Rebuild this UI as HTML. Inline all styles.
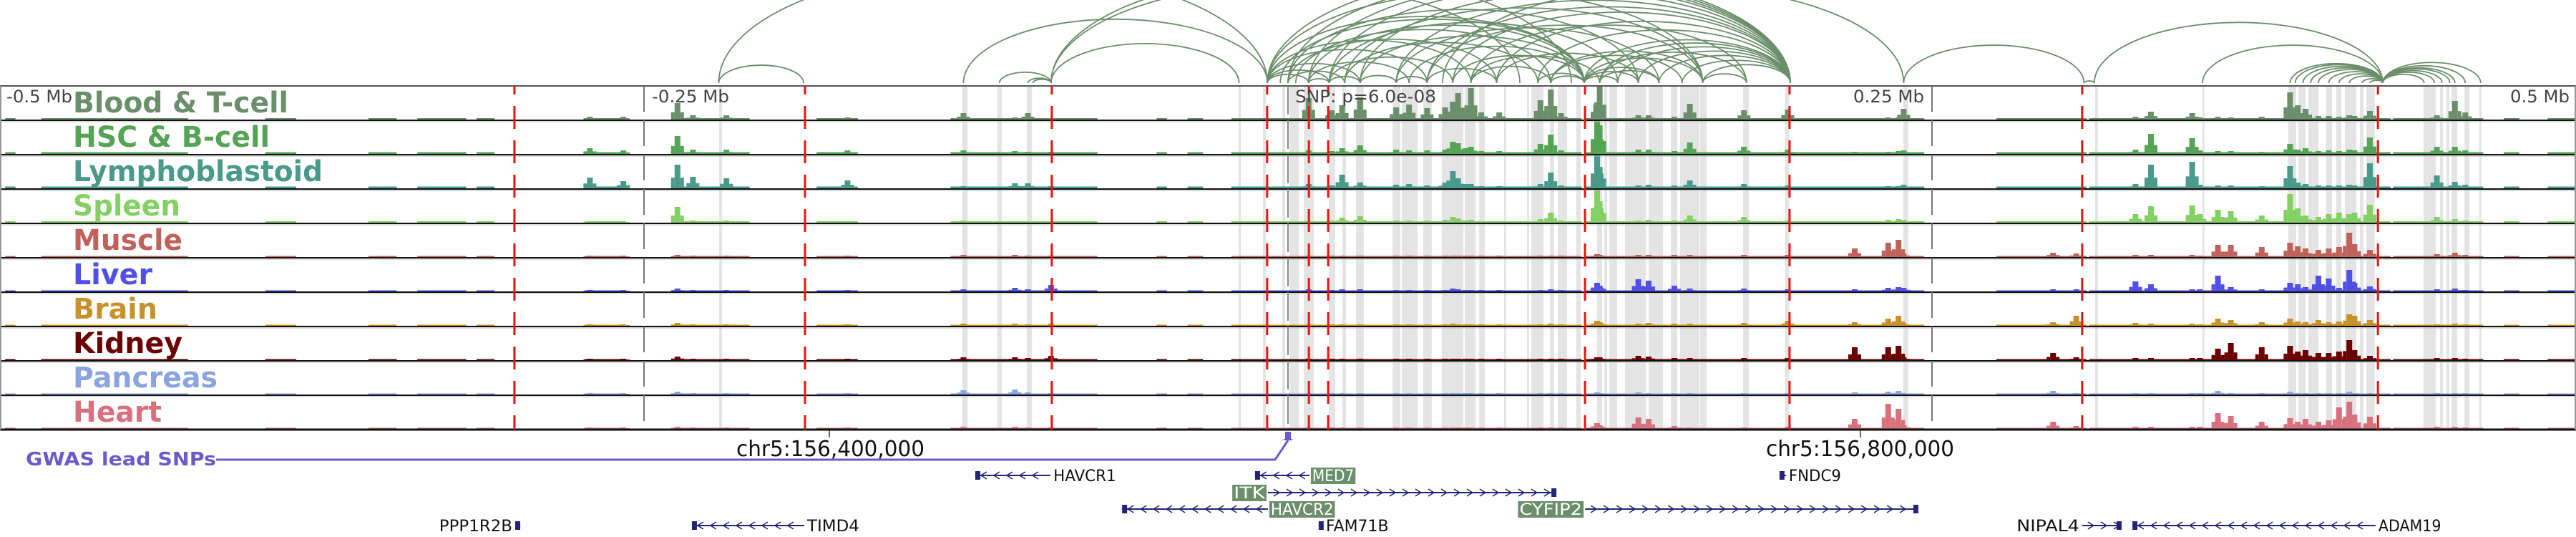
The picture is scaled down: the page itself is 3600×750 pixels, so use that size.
<!DOCTYPE html>
<html><head><meta charset="utf-8"><style>
html,body{margin:0;padding:0;background:#fff;width:3600px;height:750px;overflow:hidden}
svg{display:block;overflow:hidden}
text{font-family:"DejaVu Sans","Liberation Sans",sans-serif}
</style></head><body>
<svg id="fig" width="3600" height="750" viewBox="0 0 3600 750" xmlns="http://www.w3.org/2000/svg">
<defs><clipPath id="arcclip"><rect x="0" y="0" width="3600" height="119"/></clipPath></defs>
<rect x="0" y="0" width="3600" height="750" fill="#fff"/>
<g id="arcs" clip-path="url(#arcclip)"></g>
<g id="highlights"></g>
<g id="signals"></g>
<g id="frame"></g>
<g id="marks"></g>
<g id="labels"></g>
<g id="axis">
<text x="9" y="143" font-size="24" fill="#444" textLength="92" lengthAdjust="spacingAndGlyphs">-0.5 Mb</text>
<text x="911" y="143" font-size="24" fill="#444" textLength="108" lengthAdjust="spacingAndGlyphs">-0.25 Mb</text>
<text x="1810" y="143" font-size="24" fill="#444" textLength="197" lengthAdjust="spacingAndGlyphs">SNP: p=6.0e-08</text>
<text x="2590" y="143" font-size="24" fill="#444" textLength="99" lengthAdjust="spacingAndGlyphs">0.25 Mb</text>
<text x="3508" y="143" font-size="24" fill="#444" textLength="83" lengthAdjust="spacingAndGlyphs">0.5 Mb</text>
<line x1="1159" y1="601" x2="1159" y2="611" stroke="#333" stroke-width="1.5"/>
<line x1="2600" y1="601" x2="2600" y2="611" stroke="#333" stroke-width="1.5"/>
<text x="1029" y="637" font-size="30" fill="#111" textLength="263" lengthAdjust="spacingAndGlyphs">chr5:156,400,000</text>
<text x="2468" y="637" font-size="30" fill="#111" textLength="263" lengthAdjust="spacingAndGlyphs">chr5:156,800,000</text>
</g>
<g id="gwas">
<text x="36" y="650" font-size="26" font-weight="bold" fill="#6a5acd" textLength="266" lengthAdjust="spacingAndGlyphs">GWAS lead SNPs</text>
<polyline points="302,642 1782,642 1800,615" fill="none" stroke="#6a5acd" stroke-width="3"/>
<rect x="1796" y="603" width="8" height="10" fill="#6a5acd"/>
<rect x="1794" y="613" width="12" height="2" fill="#6a5acd"/>
</g>
<g id="genes"></g>
</svg>
<script>
// ---------- data ----------
const CENTER_X = 1800, PX_PER_KB = 3.6;
const trackNames = ["Blood & T-cell","HSC & B-cell","Lymphoblastoid","Spleen","Muscle","Liver","Brain","Kidney","Pancreas","Heart"];
const trackColors = ["#6b8e6b","#55a455","#4a9a8c","#85d065","#c0625a","#5050e8","#c8922a","#6b0000","#8aa4e0","#d8707e"];
const labelWidths = [301,275,349,150,153,111,118,153,202,124];
const noiseLevel = [2,2.5,2.5,2,1.5,1.5,1.5,1.5,1.5,1.5];
const peakKb = [-271,-258,-237,-231,-218,-171,-126,-106,-101,-92,8,17,21,28,42,47,54,61,64,66,69,71,75,82,98,102,106,120,121,136,140,150,156,177,194,220,233,237,239,297,306,329,335,351,354,361,366,378,389,392,395,400,404,408,412,414,420,446,453,457];
const bloodVals = [4,4,23,6,6,3,9,3,9,2,30,13,20,31,17,21,16,17,25,37,13,44,10,10,27,42,9,24,46,6,6,4,22,13,14,2,3,3,15,1,1,4,11,9,3,4,3,4,38,20,15,5,5,4,6,5,12,6,26,10];
const hscVals = [8,5,25,6,6,5,5,4,3,3,5,4,8,12,6,5,5,6,17,15,8,10,4,4,14,27,5,46,40,6,6,4,16,10,6,3,3,4,5,2,2,6,28,22,5,4,4,3,14,6,8,4,5,4,6,5,23,10,10,5];
const lymphoVals = [15,10,33,16,14,11,3,7,7,3,6,4,19,8,5,6,4,8,24,14,6,6,3,3,6,22,4,46,30,4,5,4,11,6,4,2,3,3,5,2,2,6,33,37,5,4,4,3,31,8,6,4,4,4,5,4,35,18,9,5];
const spleenVals = [2,2,22,3,3,2,3,2,2,2,3,3,7,9,3,3,3,4,8,6,3,4,2,2,5,14,3,46,30,3,4,3,10,8,3,2,4,5,4,2,2,12,23,24,12,18,16,10,40,20,10,8,12,14,12,14,25,8,5,3];
const muscleVals = [2,2,3,2,2,2,3,3,2,2,2,2,2,2,2,2,2,2,2,2,2,2,2,2,2,2,2,4,3,3,3,3,3,3,3,12,20,24,5,6,5,3,3,3,2,17,17,14,20,15,12,10,12,14,34,18,10,4,6,3];
const liverVals = [2,2,4,2,2,2,3,5,3,9,3,2,3,3,2,2,2,2,4,3,2,2,2,2,2,3,2,12,8,17,15,8,4,4,3,3,5,6,5,3,3,14,10,3,3,22,6,3,12,10,6,22,18,5,30,12,7,3,4,2];
const brainVals = [2,2,4,2,2,2,3,3,2,3,2,2,2,2,2,2,2,2,3,2,2,2,2,2,2,3,2,7,5,3,4,3,3,4,7,5,10,14,4,5,14,4,3,3,2,10,8,5,10,6,5,8,5,6,16,14,8,2,3,2];
const kidneyVals = [2,2,5,2,2,2,4,4,3,6,2,2,2,2,2,2,2,2,2,2,2,2,2,2,2,2,2,4,4,6,5,3,3,3,3,18,18,20,4,10,4,3,3,3,3,16,24,18,20,12,14,10,10,12,28,14,6,3,3,2];
const pancreasVals = [2,2,4,2,2,2,6,7,3,2,2,2,2,2,2,2,2,2,2,2,2,2,2,2,2,2,2,3,2,3,2,2,2,2,2,3,4,5,2,5,2,2,2,2,2,5,2,2,4,2,2,2,2,2,4,2,2,2,2,2];
const heartVals = [2,2,3,2,2,2,3,3,2,2,2,2,2,2,2,2,2,2,2,2,2,2,2,2,2,2,2,8,5,16,14,4,2,2,3,14,35,28,5,10,4,3,3,3,3,22,18,10,15,10,14,10,12,30,38,20,17,3,3,2];
const trackValues = [bloodVals,hscVals,lymphoVals,spleenVals,muscleVals,liverVals,brainVals,kidneyVals,pancreasVals,heartVals];
const noiseSegmentsKb = [[-498,-494],[-484,-427],[-397,-385],[-357,-346],[-338,-319],[-315,-308],[-273,-257],[-239,-209],[-183,-167],[-131,-92],[-92,-74],[-51,-47],[-39,-33],[-22,28],[28,114],[115,194],[194,247],[275,310],[311,428],[429,464],[472,478],[489,500]];
const highlightKb = [[-220.8,-219.7],[-126.4,-124.4],[-112.8,-111.1],[-101.4,-99.4],[-19.2,-18.3],[-9.7,-8.6],[-2.2,-1.1],[0.6,4.2],[6.1,10],[15.8,18.3],[21.1,22.5],[26.4,29.4],[40.6,43.6],[44.2,50.3],[52.5,55.8],[59.7,68.1],[68.6,72.8],[74.2,76.4],[83.9,84.7],[92.8,93.6],[94.4,99.2],[101.7,103.3],[104.7,108.3],[111.9,113.6],[120,121.9],[122.8,123.9],[124.7,127.8],[130.8,138.9],[140,145.6],[148.6,151.1],[152.2,159.7],[160,162.5],[176.7,178.9],[193,194.4],[238.9,240.8],[313.3,314.4],[355,355.8],[388.3,391.4],[392.2,395],[396.1,400],[403,405.3],[406.9,408.9],[410.3,414.7],[416.1,417.5],[418.6,421.9],[440.8,445.6],[447.2,448.3],[449.7,450.8],[451.7,453.9],[456.7,458.6],[462.5,463.3]];
const redLinesKb = [-300.3,-187.5,-91.7,-8.1,8.1,15.6,115.3,194.7,308.3,423.1];
const tickLinesKb = [-250,250];
const arcPairsKb = [[-221,-8],[-221,-188],[-126,-8],[-92,-19],[-112,-92],[-101,-92],[-99,-92],[-92,90],[-92,110],[60,239],[239,309],[309,313],[313,425],[355,425],
[-8,195],[-8,115],[-8,161],[-8,71],[-8,28],[-8,54],[-3,115],[0,195],[0,136],[0,81],[3,102],[8,195],[8,115],[8,47],[16,195],[16,128],[16,64],[22,161],[22,97],[28,195],[28,115],[42,195],[42,144],[47,115],[54,195],[54,161],[64,195],[64,115],[71,178],[71,121],[81,195],[81,136],[97,195],[97,115],[102,161],[102,153],[115,195],[115,161],[115,136],[121,195],[121,178],[128,195],[136,195],[144,195],[153,195],[161,195],[115,144],[-8,8],[8,16],[16,28],[28,42],[42,54],[-8,16],[0,22],[115,128],[121,144],[161,178],[102,115],[71,102],[54,81],
[389,425],[391,425],[394,425],[397,425],[400,425],[404,425],[408,425],[412,425],[417,425],[420,425],[425,441],[425,445],[425,448],[425,451],[425,453],[425,457],[425,463]];
const geneNames = ["HAVCR1","MED7","FNDC9","ITK","HAVCR2","CYFIP2","PPP1R2B","TIMD4","FAM71B","NIPAL4","ADAM19"];
const geneStartKb = [-121.4,-12.8,190.8,-7.8,-64.4,115.3,-300,-231.4,11.9,308.3,327.8];
const geneEndKb = [-92.2,8.3,193.3,104.2,-7.8,244.7,-298,-187.8,13.6,323.6,422.2];
const geneRow = [0,0,0,1,2,2,3,3,3,3,3];
const geneStrand = [-1,-1,0,1,-1,1,0,-1,0,1,-1];
const geneLabelSide = ["right","right","right","left","right","left","left","right","right","left","right"];
const geneLabelBoxed = [false,true,false,true,true,true,false,false,false,false,false];

// ---------- scales ----------
const NS = "http://www.w3.org/2000/svg";
const TRACK_TOP = 120, TRACK_H = 48, VMAX = 46;
function xScale(kb){ return CENTER_X + kb*PX_PER_KB; }
function trackBase(i){ return TRACK_TOP + TRACK_H*(i+1) - 1; }
function hScale(v){ return Math.min(v, VMAX) * (TRACK_H-2) / VMAX; }
function mk(tag, attrs, parent){ const e=document.createElementNS(NS,tag); for(const k in attrs) e.setAttribute(k, attrs[k]); parent.appendChild(e); return e; }
const ROW_Y = [664,688,711,734];

// arcs
const arcG = document.getElementById('arcs');
const ARC_BASE = 116;
arcPairsKb.forEach((p)=>{
  const x1=xScale(p[0]), x2=xScale(p[1]);
  const rx=(x2-x1)/2, ry=rx*2*0.21;
  const e=mk('path',{d:`M${x1},${ARC_BASE} A${rx},${ry} 0 0 1 ${x2},${ARC_BASE}`,fill:'none',stroke:'#6b8e6b','stroke-width':1.8},arcG);
  
  
});

// highlight columns
const hG = document.getElementById('highlights');
highlightKb.forEach((h)=>{
  const x1=xScale(h[0]), x2=xScale(h[1]);
  const e=mk('rect',{x:x1,y:TRACK_TOP,width:Math.max(2,x2-x1),height:TRACK_H*10,fill:'#e4e4e4'},hG);
  
  
});

// signals
const sG = document.getElementById('signals');
trackValues.forEach((vals,ti)=>{
  const g=mk('g',{},sG);
  
  
  const base=trackBase(ti), col=trackColors[ti];
  noiseSegmentsKb.forEach((s)=>{
    const x1=xScale(s[0]), x2=xScale(s[1]), h=noiseLevel[ti];
    const e=mk('rect',{x:x1,y:base-h,width:x2-x1,height:h,fill:col},g);
    
    
  });
  peakKb.forEach((kb,pi)=>{
    const v=vals[pi], x=xScale(kb), h=hScale(v);
    const side=hScale(v*0.45);
    const l=mk('rect',{x:x-9,y:base-side,width:5,height:side,fill:col},g);
    
    
    const r=mk('rect',{x:x+4,y:base-side,width:5,height:side,fill:col},g);
    
    
    const e=mk('rect',{x:x-4,y:base-h,width:8,height:h,fill:col},g);
    
    
  });
});

// frame
const fG = document.getElementById('frame');
for(let i=0;i<=10;i++){
  const y=TRACK_TOP+TRACK_H*i;
  const e=mk('line',{x1:0,y1:y,x2:3600,y2:y,stroke:i===0?'#555':'#111','stroke-width':i===10?3:2},fG);
  
  
  if(i>0&&i<10){ mk('line',{x1:0,y1:y+2,x2:3600,y2:y+2,stroke:'#bbb','stroke-width':1},fG); }
}
mk('line',{x1:1,y1:TRACK_TOP,x2:1,y2:600,stroke:'#999','stroke-width':2},fG);
mk('line',{x1:3599,y1:TRACK_TOP,x2:3599,y2:600,stroke:'#999','stroke-width':2},fG);

// marker lines
const mG = document.getElementById('marks');
tickLinesKb.forEach((kb)=>{
  const e=mk('line',{x1:xScale(kb),y1:TRACK_TOP,x2:xScale(kb),y2:600,stroke:'#777','stroke-width':2,'stroke-dasharray':'36 12','stroke-dashoffset':'0'},mG);
  
  
});
{
  const e=mk('line',{x1:xScale(0),y1:TRACK_TOP,x2:xScale(0),y2:600,stroke:'#888','stroke-width':2,'stroke-dasharray':'40 8'},mG);
  
  
}
redLinesKb.forEach((kb)=>{
  const e=mk('line',{x1:xScale(kb),y1:TRACK_TOP,x2:xScale(kb),y2:600,stroke:'#ee1111','stroke-width':3,'stroke-dasharray':'32 16','stroke-dashoffset':'20'},mG);
  
  
});

// track labels
const lG = document.getElementById('labels');
trackNames.forEach((n,i)=>{
  const e=mk('text',{x:102,y:TRACK_TOP+TRACK_H*i+37,'font-size':40,'font-weight':'bold',fill:trackColors[i],textLength:labelWidths[i],lengthAdjust:'spacingAndGlyphs'},lG);
  e.textContent=n;
  
  
});

// genes
const gG = document.getElementById('genes');
const GENE_COL = '#23237a';
geneNames.forEach((name,gi)=>{
  const g=mk('g',{},gG);
  
  
  const x1=xScale(geneStartKb[gi]), x2=xScale(geneEndKb[gi]), y=ROW_Y[geneRow[gi]];
  mk('line',{x1:x1,y1:y,x2:x2,y2:y,stroke:GENE_COL,'stroke-width':2},g);
  const st=geneStrand[gi];
  if(st!==0){
    for(let cx=x1+12; cx<x2-6; cx+=18){
      const d = st>0 ? `M${cx-4},${y-5} L${cx+4},${y} L${cx-4},${y+5}` : `M${cx+4},${y-5} L${cx-4},${y} L${cx+4},${y+5}`;
      mk('path',{d:d,fill:'none',stroke:GENE_COL,'stroke-width':1.5},g);
    }
  }
  const endBoxX = st>0 ? x2-7 : x1;
  mk('rect',{x:endBoxX,y:y-6,width:7,height:12,fill:GENE_COL},g);
  const side=geneLabelSide[gi], boxed=geneLabelBoxed[gi];
  const tw = name.length*14.6;
  let tx = side==='right' ? x2+4 : x1-4-tw;
  if(boxed){
    const r=mk('rect',{x:tx-2,y:y-11,width:tw+4,height:23,fill:'#6b8e6b'},g);
    
    
  }
  const t=mk('text',{x:tx,y:y+8,'font-size':22,fill:boxed?'#fff':'#111',textLength:tw,lengthAdjust:'spacingAndGlyphs'},g);
  t.textContent=name;
  
  
});
</script>
</body></html>
